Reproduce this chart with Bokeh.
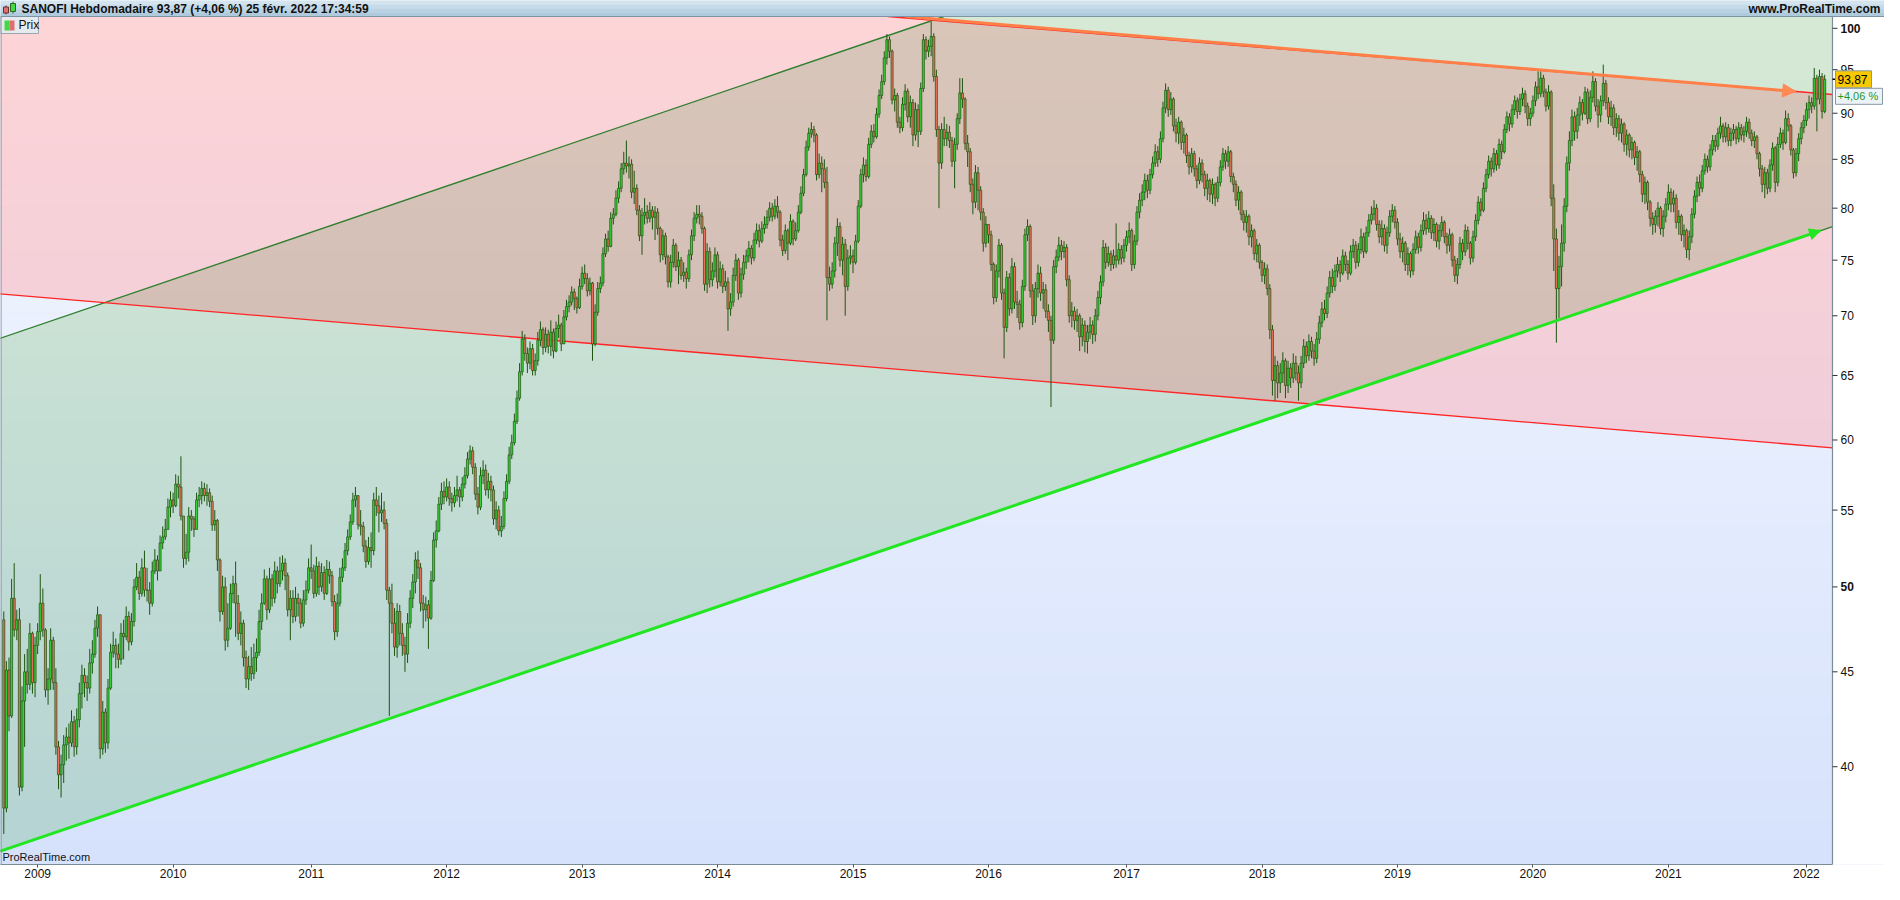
import math
import pandas as pd
from bokeh.plotting import figure
from bokeh.models import Range1d, FixedTicker, Arrow, NormalHead, ColumnDataSource
from bokeh.core.properties import value
from bokeh.embed import file_html
from bokeh.resources import INLINE

# ------------------------------------------------------------------ data
start_date = "2008-10-03"          # first weekly candle (Friday)
first_open = 48.0

close_2008 = [38.0, 45.1, 42.6, 49.3, 47.4, 48.0, 39.0, 43.4, 45.0, 44.3, 47.2, 44.4, 46.5]
high_2008 = [48.5, 45.6, 45.8, 50.5, 51.5, 48.6, 48.7, 44.2, 46.0, 46.3, 47.8, 47.3, 47.0]
low_2008 = [36.8, 37.8, 41.8, 42.5, 47.0, 46.8, 38.6, 38.8, 41.0, 43.8, 44.0, 43.8, 43.6]

close_2009 = [47.3, 49.0, 47.4, 44.0, 44.6, 46.8, 44.4, 41.0, 39.6, 40.1, 41.1, 41.5, 41.2, 42.3, 41.0, 42.4, 43.8, 44.8, 44.4, 44.1, 45.5, 46.0, 47.5, 48.3, 40.9, 42.8, 41.2, 44.1, 46.1, 46.5, 46.0, 45.7, 47.2, 47.0, 48.2, 46.7, 47.9, 50.0, 50.6, 49.6, 51.2, 49.8, 49.8, 49.0, 51.0, 51.7, 51.0, 52.8, 53.2, 53.7, 55.2, 55.7]
high_2009 = [47.8, 50.8, 49.9, 47.5, 45.2, 47.5, 47.0, 45.2, 41.3, 40.6, 41.6, 42.0, 42.2, 42.9, 42.6, 43.0, 44.4, 45.4, 45.2, 44.8, 46.3, 46.8, 48.0, 48.8, 48.1, 43.4, 43.0, 44.6, 46.6, 47.3, 46.9, 46.6, 47.8, 48.0, 48.8, 48.5, 48.4, 50.5, 51.5, 51.0, 51.8, 52.3, 51.2, 50.3, 51.6, 52.4, 52.0, 53.3, 53.9, 54.4, 55.8, 56.3]
low_2009 = [46.0, 46.8, 47.0, 43.6, 43.2, 44.0, 44.0, 40.6, 38.9, 38.5, 39.2, 40.3, 40.4, 41.0, 40.5, 40.6, 42.0, 43.0, 43.6, 43.4, 43.8, 44.9, 45.8, 47.0, 40.4, 40.6, 40.7, 40.9, 44.0, 45.8, 45.2, 45.2, 45.4, 45.7, 46.8, 46.2, 46.5, 47.6, 49.8, 49.2, 49.4, 49.4, 49.1, 48.3, 48.8, 50.8, 50.4, 51.0, 52.4, 53.0, 53.8, 54.5]

close_2010 = [55.3, 56.8, 56.6, 54.6, 51.8, 52.2, 54.6, 54.4, 53.7, 55.7, 56.0, 56.5, 56.0, 56.2, 55.6, 54.0, 54.3, 51.7, 48.5, 50.0, 46.8, 47.5, 49.6, 50.2, 49.0, 47.2, 47.8, 45.8, 44.6, 45.3, 44.9, 45.8, 46.1, 47.9, 49.0, 50.5, 48.6, 50.5, 49.3, 51.0, 50.2, 51.0, 51.5, 50.7, 48.6, 49.3, 48.2, 49.3, 49.0, 47.8, 49.2, 49.8, 51.2]
high_2010 = [56.2, 57.5, 57.4, 58.8, 54.4, 53.4, 55.2, 55.0, 54.6, 56.2, 56.6, 57.0, 56.9, 56.8, 56.5, 56.0, 55.0, 54.4, 51.8, 50.7, 50.6, 49.0, 50.2, 50.7, 51.6, 49.5, 48.5, 48.0, 46.2, 45.9, 46.4, 46.6, 46.9, 48.6, 49.6, 51.1, 50.7, 51.2, 50.8, 51.6, 51.3, 51.9, 52.0, 51.8, 50.9, 49.8, 49.8, 50.0, 49.6, 49.3, 49.8, 50.4, 51.8]
low_2010 = [54.8, 55.2, 55.8, 54.3, 51.2, 51.4, 51.6, 53.6, 53.2, 53.8, 55.2, 55.4, 55.6, 55.3, 55.2, 53.6, 53.6, 51.0, 47.9, 48.3, 46.2, 46.4, 47.4, 49.0, 47.0, 46.8, 46.5, 45.3, 44.1, 44.0, 44.5, 44.6, 45.0, 45.9, 47.4, 48.9, 48.0, 48.4, 48.8, 49.0, 49.6, 50.0, 50.4, 49.8, 48.2, 46.8, 47.8, 47.9, 48.2, 47.5, 47.6, 48.9, 49.6]

close_2011 = [51.0, 49.6, 51.3, 50.0, 50.9, 49.6, 51.1, 50.7, 49.1, 47.3, 49.0, 50.6, 51.2, 52.3, 53.2, 54.2, 55.7, 56.0, 54.0, 53.9, 52.6, 51.6, 52.5, 52.3, 55.7, 55.3, 54.8, 55.0, 54.1, 49.8, 49.0, 47.8, 46.4, 48.5, 47.2, 46.5, 46.0, 47.8, 49.3, 50.3, 51.7, 51.2, 49.0, 48.6, 48.9, 48.1, 50.4, 53.0, 53.6, 55.4, 56.3, 55.9]
high_2011 = [52.7, 51.4, 51.9, 51.6, 51.5, 51.3, 51.7, 51.6, 51.0, 49.5, 49.6, 51.2, 51.8, 52.8, 53.7, 54.7, 56.2, 56.6, 56.0, 55.0, 54.2, 53.0, 53.2, 53.5, 56.2, 56.6, 56.0, 56.2, 55.6, 54.4, 50.0, 50.2, 48.7, 49.0, 48.9, 47.8, 47.0, 48.4, 49.8, 50.8, 52.2, 52.3, 51.5, 49.5, 49.4, 49.2, 51.0, 53.5, 54.3, 55.9, 56.9, 57.0]
low_2011 = [50.5, 49.3, 49.4, 49.5, 49.7, 49.2, 49.5, 50.2, 48.8, 46.8, 47.0, 48.8, 50.3, 51.0, 52.0, 53.0, 54.0, 55.2, 53.7, 53.3, 52.2, 51.2, 51.4, 51.2, 52.0, 54.6, 53.5, 54.2, 53.7, 49.2, 42.6, 47.2, 45.9, 45.8, 46.5, 45.9, 45.0, 45.5, 47.5, 48.7, 49.6, 50.5, 48.5, 47.5, 47.9, 46.3, 48.0, 50.3, 52.5, 53.5, 55.0, 55.4]

close_2012 = [56.6, 55.8, 55.5, 56.0, 56.4, 55.9, 56.8, 57.4, 58.6, 59.2, 58.0, 56.1, 55.2, 57.4, 57.8, 56.4, 57.0, 56.4, 54.4, 55.0, 53.6, 53.9, 55.8, 57.0, 58.9, 59.8, 61.4, 63.2, 65.3, 68.0, 66.8, 66.0, 67.2, 65.4, 66.2, 67.9, 68.8, 67.3, 68.4, 67.4, 68.6, 67.0, 68.9, 69.2, 67.6, 69.9, 70.8, 71.2, 72.1, 71.5, 70.7, 72.6]
high_2012 = [57.2, 57.0, 56.2, 56.6, 57.4, 56.6, 57.3, 58.0, 59.1, 59.6, 59.5, 58.3, 56.6, 58.0, 58.5, 58.2, 57.6, 57.4, 56.7, 55.6, 55.3, 54.6, 56.3, 57.5, 59.5, 60.4, 62.0, 63.8, 66.0, 68.7, 68.4, 67.3, 67.8, 67.6, 66.8, 68.6, 69.5, 69.0, 69.0, 68.8, 69.6, 68.9, 69.5, 70.1, 69.4, 70.5, 71.4, 71.8, 72.6, 72.4, 71.7, 73.3]
low_2012 = [55.6, 55.3, 54.9, 55.2, 55.6, 55.2, 55.6, 56.5, 57.2, 58.2, 57.5, 55.7, 54.7, 55.0, 56.8, 56.0, 55.8, 55.6, 54.0, 53.7, 53.3, 53.2, 53.7, 55.6, 56.8, 58.6, 59.6, 61.2, 63.0, 65.0, 66.2, 65.2, 65.5, 65.0, 65.0, 65.8, 67.4, 66.7, 66.9, 66.8, 66.6, 66.4, 66.9, 68.1, 67.0, 67.8, 69.6, 70.3, 70.9, 70.5, 70.2, 70.6]

close_2013 = [73.8, 73.3, 72.2, 72.9, 67.6, 70.3, 72.4, 72.9, 75.6, 77.0, 76.3, 79.0, 79.4, 81.0, 82.0, 84.0, 84.6, 84.3, 84.5, 81.6, 82.0, 79.8, 77.3, 79.3, 79.6, 79.0, 79.8, 79.1, 79.6, 78.0, 75.5, 77.3, 75.3, 73.0, 74.8, 76.4, 74.4, 75.0, 73.6, 73.9, 73.3, 75.5, 77.3, 79.0, 79.4, 79.2, 78.0, 72.8, 75.8, 73.2, 74.0, 75.5]
high_2013 = [74.4, 74.6, 73.8, 73.4, 73.0, 71.0, 73.0, 73.5, 76.2, 77.5, 77.8, 79.6, 80.0, 81.8, 82.7, 84.6, 85.8, 87.0, 85.3, 85.0, 83.8, 82.4, 80.3, 80.0, 81.0, 80.3, 80.6, 80.2, 80.2, 80.0, 78.2, 77.9, 77.6, 75.5, 75.5, 77.0, 76.6, 75.8, 75.3, 74.8, 74.3, 76.0, 77.9, 79.6, 80.3, 80.3, 79.6, 78.2, 76.6, 76.2, 74.8, 76.2]
low_2013 = [72.3, 72.8, 71.7, 71.8, 66.2, 67.4, 70.0, 72.0, 72.6, 75.3, 75.8, 76.2, 78.4, 79.2, 80.5, 81.6, 83.4, 83.6, 83.0, 81.0, 80.4, 79.3, 76.8, 75.5, 78.4, 78.5, 78.6, 77.9, 76.9, 77.4, 74.8, 75.0, 74.6, 72.5, 72.5, 74.3, 74.0, 72.8, 73.2, 73.0, 72.4, 73.0, 75.0, 76.8, 78.5, 78.4, 77.5, 72.2, 72.0, 72.5, 72.6, 73.4]

close_2014 = [73.0, 74.2, 72.6, 73.0, 70.6, 71.2, 73.6, 75.0, 72.0, 73.7, 74.8, 75.4, 76.1, 75.2, 76.9, 77.8, 76.8, 78.0, 78.4, 79.1, 80.0, 79.2, 80.2, 79.6, 76.9, 75.9, 77.8, 76.6, 78.7, 77.0, 77.8, 79.6, 81.5, 83.4, 86.3, 87.8, 88.2, 87.6, 83.4, 84.6, 84.0, 82.6, 73.4, 72.8, 74.0, 76.6, 78.2, 75.0, 76.5, 72.6, 75.2, 75.4]
high_2014 = [75.8, 74.9, 74.6, 74.0, 73.4, 72.0, 74.3, 75.6, 75.2, 74.3, 75.5, 76.0, 76.8, 76.4, 77.6, 78.5, 78.4, 78.7, 79.2, 79.8, 80.6, 80.5, 80.9, 81.2, 79.8, 77.4, 78.4, 78.0, 79.4, 78.9, 78.6, 80.3, 82.2, 84.0, 87.0, 88.4, 89.0, 88.6, 87.8, 85.6, 85.3, 85.0, 84.2, 74.4, 74.8, 77.2, 79.0, 78.6, 77.2, 77.0, 76.0, 76.4]
low_2014 = [72.4, 72.6, 72.0, 72.2, 68.7, 70.0, 70.8, 73.1, 71.4, 71.6, 73.2, 74.2, 74.8, 74.6, 74.9, 76.5, 76.2, 76.6, 77.5, 78.0, 78.7, 78.7, 78.9, 79.0, 76.3, 75.4, 75.6, 75.0, 76.4, 76.4, 76.8, 77.6, 79.4, 81.2, 83.2, 85.9, 87.3, 86.8, 82.8, 83.0, 81.6, 82.0, 69.6, 72.2, 72.4, 73.4, 75.4, 74.4, 73.6, 70.0, 72.2, 74.6]

close_2015 = [74.8, 76.8, 80.2, 83.4, 84.4, 83.2, 86.6, 88.0, 87.4, 89.9, 92.0, 93.6, 96.4, 98.6, 97.2, 91.5, 92.0, 89.0, 88.4, 91.0, 92.5, 89.6, 91.2, 87.6, 90.4, 88.0, 92.8, 98.6, 97.2, 97.8, 99.0, 94.2, 88.2, 84.6, 88.2, 87.2, 87.9, 87.0, 84.8, 86.6, 89.4, 92.3, 91.6, 86.7, 85.8, 82.4, 80.6, 83.6, 81.8, 79.6, 76.6, 78.4]
high_2015 = [76.0, 77.4, 80.8, 84.0, 85.2, 85.0, 87.3, 88.7, 88.8, 90.6, 92.7, 94.4, 97.2, 99.3, 99.0, 97.4, 92.8, 92.3, 89.6, 91.8, 93.3, 92.8, 92.0, 91.6, 91.2, 91.0, 93.5, 99.3, 99.0, 98.6, 100.8, 99.4, 95.0, 88.6, 88.9, 89.6, 88.8, 88.6, 87.4, 87.3, 90.0, 94.0, 94.0, 91.8, 87.6, 86.2, 83.0, 84.4, 84.2, 82.2, 80.0, 79.2]
low_2015 = [73.8, 74.6, 76.6, 80.0, 82.6, 82.7, 83.0, 86.2, 86.8, 87.2, 89.5, 91.6, 93.2, 95.6, 96.4, 91.0, 90.2, 88.4, 87.8, 88.0, 90.3, 89.0, 88.4, 86.4, 87.0, 86.3, 87.6, 92.4, 96.2, 96.5, 96.6, 93.6, 87.4, 80.0, 84.0, 86.4, 86.4, 86.2, 84.2, 82.0, 86.0, 88.8, 90.6, 86.0, 84.2, 81.6, 79.4, 80.0, 79.8, 78.8, 75.8, 76.2]

close_2016 = [77.4, 74.6, 71.6, 74.0, 76.4, 72.0, 69.0, 73.4, 70.6, 74.4, 71.2, 71.0, 69.4, 72.6, 77.4, 78.2, 72.2, 70.0, 72.4, 73.8, 72.0, 72.3, 70.4, 69.6, 67.9, 74.4, 75.3, 76.4, 75.8, 76.2, 73.2, 70.0, 70.4, 69.6, 70.0, 68.2, 69.2, 67.8, 68.6, 69.2, 68.4, 70.0, 71.6, 73.0, 76.2, 74.8, 75.6, 74.6, 75.4, 75.0, 76.0, 75.2, 76.4]
high_2016 = [78.4, 77.8, 74.8, 74.6, 77.0, 76.6, 72.4, 74.0, 73.8, 75.2, 74.8, 72.2, 71.4, 73.2, 78.0, 78.9, 78.4, 72.8, 73.0, 74.6, 74.4, 73.0, 72.8, 71.0, 70.0, 75.0, 76.0, 77.2, 76.9, 76.8, 76.5, 73.6, 71.2, 70.8, 70.6, 70.2, 69.8, 69.6, 69.2, 69.9, 69.6, 70.6, 72.2, 73.6, 76.9, 76.6, 76.3, 75.9, 76.0, 78.5, 76.6, 76.4, 77.0]
low_2016 = [76.6, 74.0, 71.0, 71.2, 73.4, 71.4, 66.4, 68.6, 70.0, 70.2, 70.6, 69.8, 68.8, 69.0, 72.2, 76.8, 71.6, 69.2, 69.4, 71.6, 71.3, 70.6, 69.8, 68.6, 62.5, 67.6, 73.8, 74.9, 75.0, 75.2, 72.6, 69.4, 69.0, 68.8, 68.6, 67.0, 67.4, 66.9, 66.8, 68.0, 67.6, 67.8, 69.6, 71.0, 72.6, 74.2, 74.4, 74.0, 74.2, 74.3, 74.6, 74.6, 74.8]

close_2017 = [77.2, 77.8, 74.6, 76.8, 79.6, 80.8, 81.6, 82.8, 81.8, 83.4, 84.6, 85.8, 85.0, 87.2, 90.6, 92.6, 90.4, 91.6, 88.6, 87.8, 89.0, 86.8, 87.6, 85.4, 84.2, 85.6, 84.0, 82.8, 84.6, 83.4, 82.0, 82.8, 81.4, 82.4, 81.0, 82.6, 84.2, 85.6, 84.8, 85.8, 83.2, 82.4, 80.8, 81.6, 79.4, 78.6, 79.2, 77.2, 77.8, 75.6, 76.4, 74.8]
high_2017 = [77.8, 78.6, 78.0, 77.4, 80.2, 81.5, 82.4, 83.5, 83.4, 84.0, 85.3, 86.6, 86.4, 88.0, 91.3, 93.4, 93.0, 92.4, 91.8, 89.4, 89.6, 89.2, 88.4, 87.8, 85.8, 86.2, 85.9, 84.4, 85.2, 85.0, 83.8, 83.5, 83.0, 83.0, 82.6, 83.2, 84.9, 86.2, 86.0, 86.4, 86.0, 83.6, 82.8, 82.2, 81.8, 79.8, 79.8, 79.4, 78.4, 78.0, 77.0, 76.6]
low_2017 = [75.8, 76.6, 74.0, 74.2, 76.4, 79.0, 80.2, 80.8, 81.0, 81.4, 83.0, 84.2, 84.2, 84.6, 86.8, 90.0, 89.6, 89.8, 88.0, 86.8, 86.6, 86.0, 85.6, 84.6, 83.4, 83.6, 83.2, 82.0, 82.4, 82.6, 81.2, 80.8, 80.6, 80.4, 80.2, 80.6, 82.2, 83.8, 84.0, 84.2, 82.6, 81.6, 80.2, 79.8, 78.8, 77.8, 77.6, 76.4, 76.2, 75.0, 74.8, 74.2]

close_2018 = [73.6, 74.2, 72.4, 68.8, 64.6, 65.8, 64.4, 65.2, 66.2, 64.2, 65.6, 64.8, 66.0, 65.2, 64.4, 66.0, 67.4, 66.6, 67.8, 67.0, 66.4, 68.0, 69.4, 70.6, 70.2, 72.0, 73.4, 72.6, 74.0, 74.6, 73.8, 75.4, 74.6, 73.8, 75.8, 76.4, 74.8, 76.0, 77.2, 75.8, 77.6, 78.8, 79.4, 80.0, 78.4, 77.2, 78.0, 76.4, 77.6, 79.2, 79.8, 78.6]
high_2018 = [75.0, 74.8, 74.6, 72.8, 69.2, 66.6, 66.2, 66.0, 66.9, 66.4, 66.2, 66.0, 66.8, 66.6, 65.8, 66.6, 68.0, 67.8, 68.4, 68.2, 67.6, 68.6, 70.0, 71.2, 71.4, 72.6, 74.0, 74.2, 74.6, 75.3, 75.0, 76.0, 75.8, 75.0, 76.4, 77.0, 76.8, 76.6, 78.0, 77.6, 78.2, 79.4, 80.2, 80.8, 80.4, 78.8, 78.8, 78.4, 78.2, 79.8, 80.4, 80.2]
low_2018 = [73.0, 72.8, 71.8, 68.0, 63.4, 63.0, 63.2, 63.6, 64.4, 63.2, 63.6, 64.0, 64.4, 64.6, 63.0, 64.0, 65.6, 66.0, 66.2, 66.4, 65.8, 66.0, 67.6, 69.0, 69.6, 69.8, 71.6, 72.0, 72.2, 73.4, 73.0, 73.6, 74.0, 73.2, 73.6, 75.2, 74.2, 74.4, 75.6, 75.2, 75.6, 77.2, 78.4, 78.8, 77.8, 76.6, 76.4, 75.8, 75.6, 77.2, 78.6, 78.0]

close_2019 = [77.0, 75.8, 76.6, 74.6, 75.6, 74.0, 76.0, 77.2, 76.2, 77.8, 78.8, 78.0, 79.0, 77.6, 78.4, 76.8, 77.8, 78.6, 77.2, 76.4, 77.4, 75.0, 73.6, 74.6, 76.6, 75.8, 77.8, 76.6, 75.2, 77.2, 78.8, 80.6, 79.8, 82.0, 83.4, 84.8, 84.0, 85.6, 84.4, 86.6, 85.8, 88.2, 89.6, 88.8, 90.4, 91.4, 90.2, 91.6, 92.2, 90.8, 89.4, 90.0]
high_2019 = [79.0, 77.6, 77.2, 76.8, 76.2, 75.8, 76.6, 77.8, 77.6, 78.4, 79.6, 79.4, 79.7, 79.3, 79.0, 78.6, 78.4, 79.2, 78.8, 77.6, 78.0, 77.6, 75.4, 75.2, 77.2, 77.0, 78.4, 78.2, 76.8, 77.8, 79.4, 81.2, 81.0, 82.6, 84.0, 85.4, 85.2, 86.2, 86.0, 87.2, 87.0, 88.8, 90.2, 90.0, 91.0, 92.0, 91.8, 92.2, 92.9, 92.6, 91.2, 90.6]
low_2019 = [76.4, 75.2, 74.8, 74.0, 73.6, 73.4, 73.6, 75.6, 75.6, 75.8, 77.4, 77.4, 77.6, 77.0, 76.8, 76.2, 76.0, 77.2, 76.6, 75.6, 75.8, 74.4, 73.0, 72.8, 74.2, 75.0, 75.4, 76.0, 74.6, 74.8, 76.8, 78.4, 79.2, 79.6, 81.6, 83.0, 83.2, 83.6, 83.8, 84.0, 85.0, 85.6, 87.8, 88.0, 88.4, 89.8, 89.4, 89.8, 90.8, 90.0, 88.6, 88.6]

close_2020 = [91.4, 93.0, 92.2, 94.0, 92.4, 90.8, 92.4, 81.0, 77.0, 72.4, 74.4, 76.6, 80.2, 84.6, 87.0, 89.6, 88.0, 89.8, 91.2, 90.0, 92.4, 89.4, 91.8, 93.6, 90.8, 89.8, 91.4, 93.4, 91.2, 89.6, 90.6, 88.4, 89.4, 87.8, 88.8, 86.6, 87.6, 86.0, 86.8, 85.2, 85.8, 83.4, 81.4, 82.6, 80.6, 79.0, 78.4, 79.2, 80.0, 78.0, 79.2, 80.4]
high_2020 = [92.0, 93.6, 94.8, 94.8, 94.4, 92.8, 93.2, 92.6, 82.4, 78.0, 75.4, 78.4, 81.0, 85.3, 88.0, 90.4, 90.2, 90.6, 91.9, 91.6, 93.0, 92.8, 92.6, 94.8, 94.0, 91.6, 92.0, 95.6, 93.8, 91.8, 91.4, 91.0, 90.0, 89.8, 89.4, 89.0, 88.2, 87.8, 87.4, 87.0, 86.4, 86.0, 83.8, 83.2, 82.8, 80.8, 79.6, 79.8, 80.6, 80.2, 79.8, 81.0]
low_2020 = [89.6, 90.8, 91.6, 91.8, 91.8, 90.2, 90.4, 80.2, 74.0, 67.7, 69.8, 72.6, 75.8, 79.6, 83.8, 86.4, 87.0, 87.2, 88.6, 89.2, 89.8, 88.8, 89.0, 91.2, 90.2, 88.4, 89.0, 90.8, 90.4, 88.8, 88.6, 87.6, 87.4, 87.0, 86.8, 85.8, 85.4, 85.2, 85.0, 84.4, 83.8, 82.6, 80.6, 80.4, 79.8, 78.2, 77.4, 77.6, 78.2, 77.4, 77.2, 78.6]

close_2021 = [81.6, 80.4, 81.0, 78.6, 79.2, 77.4, 77.8, 76.0, 77.2, 79.4, 81.2, 82.6, 82.0, 83.8, 85.0, 84.2, 86.0, 87.0, 86.4, 87.8, 88.6, 87.4, 88.4, 87.0, 87.8, 88.2, 87.2, 88.4, 87.6, 88.0, 89.0, 87.8, 87.0, 87.4, 85.6, 84.0, 82.4, 83.6, 82.0, 84.4, 86.2, 82.6, 86.6, 87.8, 86.8, 89.4, 88.6, 86.0, 83.6, 85.6, 87.2, 88.4, 89.2]
high_2021 = [82.4, 82.0, 81.8, 81.4, 79.8, 79.4, 78.4, 78.0, 77.8, 80.0, 81.8, 83.2, 83.4, 84.4, 85.6, 85.4, 86.6, 87.6, 87.6, 88.4, 89.6, 88.9, 89.0, 88.8, 88.4, 88.8, 88.6, 89.0, 88.8, 88.6, 89.6, 89.4, 88.2, 88.0, 87.6, 85.8, 84.4, 84.2, 84.0, 85.0, 86.8, 86.4, 87.4, 88.4, 88.2, 90.3, 90.0, 88.8, 86.2, 86.2, 87.8, 89.0, 89.8]
low_2021 = [79.8, 79.6, 79.6, 78.0, 77.4, 76.8, 76.2, 75.2, 75.0, 76.6, 79.0, 80.6, 81.2, 81.6, 83.4, 83.6, 83.8, 85.4, 85.8, 86.0, 87.2, 86.8, 86.8, 86.4, 86.4, 87.0, 86.6, 86.8, 87.0, 86.8, 87.4, 87.2, 86.4, 86.2, 85.0, 83.2, 81.6, 81.0, 81.4, 81.6, 83.8, 81.6, 82.2, 86.2, 86.0, 86.6, 88.0, 85.4, 83.0, 83.2, 84.8, 86.6, 87.8]

close_2022 = [90.4, 91.2, 90.8, 94.0, 91.6, 94.2, 90.21, 93.87]
high_2022 = [91.2, 92.0, 91.8, 95.2, 94.4, 95.0, 94.6, 94.4]
low_2022 = [88.6, 89.4, 90.0, 90.4, 88.0, 91.0, 89.4, 90.0]

# trend lines drawn on the chart: (week index, price)
support_pts = [(-1.26, 36.02), (697.4, 77.8)]       # bright green support (arrow)
channel_top_start = (-1.26, 68.08)                   # parallel upper channel line
red_low_pts = [(-1.26, 71.93), (702.0, 59.42)]      # lower red line
resist_pts = [(333.2, 101.65), (702.0, 92.12)]      # thin red resistance
orange_pts = [(333.2, 101.85), (687.9, 92.46)]      # orange resistance (arrow)

last_price = 93.87
last_price_text = "93,87"
last_change_text = "+4,06 %"
header_text = "SANOFI Hebdomadaire 93,87 (+4,06 %) 25 févr. 2022 17:34:59"
site_text = "www.ProRealTime.com"
y_ticks = [40, 45, 50, 55, 60, 65, 70, 75, 80, 85, 90, 95, 100]
y_ticks_bold = [50, 100]

years = list(range(2008, 2023))
closes, highs, lows = [], [], []
for y in years:
    closes += globals()[f"close_{y}"]
    highs += globals()[f"high_{y}"]
    lows += globals()[f"low_{y}"]
n = min(len(closes), len(highs), len(lows))
closes, highs, lows = closes[:n], highs[:n], lows[:n]
dates = pd.date_range(start_date, periods=n, freq="7D")
opens = [first_open] + closes[:-1]
idx = list(range(n))
tops = [max(o, c) for o, c in zip(opens, closes)]
bots = [min(o, c) for o, c in zip(opens, closes)]
highs = [max(h, t) for h, t in zip(highs, tops)]
lows = [min(l, b) for l, b in zip(lows, bots)]

# ------------------------------------------------------------------ geometry
W, PH, HH, RC = 1884, 848, 16, 52        # canvas width, price height, header, right column
PW = W - RC
X0, X1 = -1.26, 702.0
Y0, Y1 = 35.43, 101.48
kx = (X1 - X0) / PW
ky = (math.log(Y1) - math.log(Y0)) / PH
Xr = X1 + RC * kx
Ytop = Y1 * math.exp(HH * ky)
FONT = "Liberation Sans"
GRAY = "#7b8c99"


def xr(px):          # x position px pixels right of the price area edge
    return X1 + px * kx


def xl(px):          # x position px pixels right of the left edge
    return X0 + px * kx


def yo(price, px):   # price shifted px pixels upward
    return price * math.exp(px * ky)


p = figure(frame_width=W, frame_height=PH + HH, x_range=Range1d(X0, Xr),
           y_range=Range1d(Y0, Ytop), y_axis_type="log", y_axis_location=None,
           output_backend="svg", toolbar_location=None,
           min_border_left=0, min_border_right=0, min_border_top=0,
           min_border_bottom=20)
p.background_fill_color = "#e4ebfb"
p.border_fill_color = "white"
p.outline_line_color = None
p.grid.visible = False

# ------------------------------------------------------------------ background bands
def line_fn(pa, pb):
    (ua, pa_), (ub, pb_) = pa, pb
    va, vb = math.log(pa_), math.log(pb_)
    m = (vb - va) / (ub - ua)
    return (lambda u: va + m * (u - ua)), m, ua, va


L1, mL1, uL1, vL1 = line_fn(*support_pts)
vU1 = math.log(channel_top_start[1])
U1 = lambda u: vU1 + mL1 * (u - channel_top_start[0])
L2, mL2, uL2, vL2 = line_fn(*red_low_pts)
U2, mU2, uU2, vU2 = line_fn(*resist_pts)
OR, mOR, uOR, vOR = line_fn(*orange_pts)


def clip(poly, a, b, c):
    out = []
    k = len(poly)
    for j in range(k):
        P, Q = poly[j], poly[(j + 1) % k]
        fp = a * P[0] + b * P[1] + c
        fq = a * Q[0] + b * Q[1] + c
        if fp >= 0:
            out.append(P)
        if (fp >= 0) != (fq >= 0):
            t = fp / (fp - fq)
            out.append((P[0] + t * (Q[0] - P[0]), P[1] + t * (Q[1] - P[1])))
    return out


def above(m, u0, v0):
    return (-m, 1.0, -v0 + m * u0)


def below(m, u0, v0):
    a, b, c = above(m, u0, v0)
    return (-a, -b, -c)


VTOP = math.log(Y1)
UA, UB = X0 - 3, X1
VA = math.log(Y0) - 0.02
bg_poly = [(UA, VA), (UB, VA), (UB, VTOP), (UA, VTOP)]
bandA = [(UA, L1(UA)), (UB, L1(UB)), (UB, U1(UB)), (UA, U1(UA))]
bandB = [(UA, L2(UA)), (UB, L2(UB)), (UB, U2(UB)), (UA, U2(UA))]
overlap = clip(clip(bandA, *above(mL2, uL2, vL2)), *below(mU2, uU2, vU2))

BG = ((246, 248, 254), (214, 226, 252))
GR = ((214, 233, 213), (180, 211, 211))
PK = ((253, 213, 215), (226, 197, 220))
BR = ((217, 198, 185), (202, 178, 178))


def lerp(c, t):
    a, b = c
    return "#%02x%02x%02x" % tuple(int(round(a[k] + (b[k] - a[k]) * t)) for k in range(3))


N = 40
vbot = math.log(Y0)
for poly, cols in ((bg_poly, BG), (bandA, GR), (bandB, PK), (overlap, BR)):
    xs, ys, cs = [], [], []
    for k in range(N):
        vhi = VTOP - (VTOP - vbot) * k / N
        vlo = VTOP - (VTOP - vbot) * (k + 1) / N
        if k == N - 1:
            vlo -= 0.05
        sp = clip(clip(clip(poly, 0.0, 1.0, -vlo), 0.0, -1.0, vhi), -1.0, 0.0, X1)
        if len(sp) < 3:
            continue
        xs.append([q[0] for q in sp])
        ys.append([math.exp(q[1]) for q in sp])
        cs.append(lerp(cols, (k + 0.5) / N))
    p.patches(xs, ys, fill_color=cs, line_color=cs, line_width=0.8)


def inside_seg(m, ua, va, ulo, uhi):
    """part of the line v = va + m (u - ua) that lies inside the price area"""
    lo, hi = ulo, uhi
    if m != 0:
        u_top = ua + (VTOP - va) / m
        u_bot = ua + (VA - va) / m
        lo, hi = max(lo, min(u_top, u_bot)), min(hi, max(u_top, u_bot))
    return [lo, hi], [math.exp(va + m * (lo - ua)), math.exp(va + m * (hi - ua))]


# ------------------------------------------------------------------ thin lines
for (m, ua, va), col in (((mL1, channel_top_start[0], vU1), "#2f7f2f"),
                         ((mL1, uL1, vL1), "#2f7f2f"),
                         ((mL2, uL2, vL2), "#ff2626"),
                         ((mU2, uU2, vU2), "#ff2626")):
    sx, sy = inside_seg(m, ua, va, X0 - 2, X1)
    p.line(sx, sy, line_color=col, line_width=1.35)

# ------------------------------------------------------------------ candles
WICK = "#1d5510"
src = ColumnDataSource(dict(x=idx, top=tops, bot=bots, h=highs, l=lows,
                            color=["#38d038" if c >= o else "#e8705c"
                                   for o, c in zip(opens, closes)]))
p.segment(x0="x", y0="l", x1="x", y1="h", source=src, line_color=WICK, line_width=1)
p.vbar(x="x", width=0.8, top="top", bottom="bot", source=src,
       fill_color="color", line_color=WICK, line_width=0.7)

# ------------------------------------------------------------------ thick trend lines + arrows
gx, gy = inside_seg(mL1, uL1, vL1, support_pts[0][0], support_pts[1][0])
p.line(gx, gy, line_color="#22e622", line_width=3)
ox, oy = inside_seg(mOR, uOR, vOR, orange_pts[0][0], orange_pts[1][0])
p.line(ox, oy, line_color="#ff7f48", line_width=3)

gs = support_pts[1][0] - 6
p.add_layout(Arrow(end=NormalHead(size=11, fill_color="#22e622", line_color="#22e622"),
                   x_start=gs, y_start=math.exp(L1(gs)),
                   x_end=support_pts[1][0], y_end=support_pts[1][1], line_alpha=0))
os_ = orange_pts[1][0] - 6
p.add_layout(Arrow(end=NormalHead(size=13, fill_color="#ff8a55", line_color="#ff8a55"),
                   x_start=os_, y_start=math.exp(OR(os_)),
                   x_end=orange_pts[1][0], y_end=orange_pts[1][1], line_alpha=0))

# ------------------------------------------------------------------ legend "Prix" + watermark
p.quad(left=[X0], right=[xl(38)], bottom=[yo(Y1, -17)], top=[Y1],
       fill_color="#e6eaef", line_color="#9aa7b2", line_width=1)
p.quad(left=[xl(4), xl(9)], right=[xl(9), xl(14)],
       bottom=[yo(Y1, -14)] * 2, top=[yo(Y1, -4)] * 2,
       fill_color=["#44d844", "#e07070"], line_color=None)
p.text(x=[xl(18)], y=[yo(Y1, -8.5)], text=["Prix"], text_font=value(FONT),
       text_font_size=value("12px"), text_color="#111111", text_baseline="middle")
p.text(x=[xl(2)], y=[yo(Y0, 2)], text=["ProRealTime.com"], text_font=value(FONT),
       text_font_size=value("11px"), text_color="#111111", text_baseline="bottom")
# left border
p.segment(x0=[xl(0.5)], y0=[Y0], x1=[xl(0.5)], y1=[Y1], line_color=GRAY, line_width=1)

# ------------------------------------------------------------------ right price axis
p.quad(left=[X1], right=[Xr + 1], bottom=[Y0], top=[Y1], fill_color="white", line_color=None)
p.segment(x0=[X1], y0=[Y0], x1=[X1], y1=[Y1], line_color=GRAY, line_width=1.2)
p.segment(x0=[X1] * len(y_ticks), y0=y_ticks, x1=[xr(5)] * len(y_ticks), y1=y_ticks,
          line_color="#333333", line_width=1)
reg = [t for t in y_ticks if t not in y_ticks_bold]
p.text(x=[xr(8)] * len(reg), y=reg, text=[str(t) for t in reg], text_font=value(FONT),
       text_font_size=value("12px"), text_color="#111111", text_baseline="middle")
p.text(x=[xr(8)] * len(y_ticks_bold), y=y_ticks_bold, text=[str(t) for t in y_ticks_bold],
       text_font=value(FONT), text_font_size=value("12px"), text_font_style=value("bold"),
       text_color="#111111", text_baseline="middle")
# last price tags
p.segment(x0=[X1], y0=[last_price], x1=[xr(5)], y1=[last_price], line_color="#000000", line_width=1.5)
p.quad(left=[xr(3)], right=[xr(39)], bottom=[yo(last_price, -8.5)], top=[yo(last_price, 8.5)],
       fill_color="#f8c800", line_color="#8a98a4", line_width=1)
p.text(x=[xr(5)], y=[last_price], text=[last_price_text], text_font=value(FONT),
       text_font_size=value("12px"), text_color="#000000", text_baseline="middle")
chg_y = yo(last_price, -17)
p.quad(left=[xr(3)], right=[xr(50)], bottom=[yo(chg_y, -8)], top=[yo(chg_y, 8)],
       fill_color="#edf2f9", line_color="#8a98a4", line_width=1)
p.text(x=[xr(5)], y=[chg_y], text=[last_change_text], text_font=value(FONT),
       text_font_size=value("11px"), text_color="#1f9a1f", text_baseline="middle")

# ------------------------------------------------------------------ header bar
hcols = ["#aecadc", "#bad3e3", "#c6dbe9", "#d3e4ef"]
p.quad(left=[X0 - 1] * 4, right=[Xr + 1] * 4,
       bottom=[yo(Y1, 4 * k) for k in range(4)], top=[yo(Y1, 4 * k + 4.2) for k in range(4)],
       fill_color=hcols, line_color=None)
p.segment(x0=[X0], y0=[Y1], x1=[Xr], y1=[Y1], line_color="#7d94a5", line_width=1.2)
# candle icon
p.segment(x0=[xl(5.5), xl(12.5)], y0=[yo(Y1, 2), yo(Y1, 3)], x1=[xl(5.5), xl(12.5)],
          y1=[yo(Y1, 11), yo(Y1, 15)], line_color=["#6b3030", "#2d6a20"], line_width=1)
p.quad(left=[xl(3), xl(10)], right=[xl(8), xl(15)],
       bottom=[yo(Y1, 3.5), yo(Y1, 5)], top=[yo(Y1, 9.5), yo(Y1, 13)],
       fill_color=["#e07070", "#44d844"], line_color=["#6b3030", "#2d6a20"], line_width=1)
p.text(x=[xl(21)], y=[yo(Y1, 8)], text=[header_text], text_font=value(FONT),
       text_font_size=value("12px"), text_font_style=value("bold"),
       text_color="#111111", text_baseline="middle")
p.text(x=[Xr - 4 * kx], y=[yo(Y1, 8)], text=[site_text], text_font=value(FONT),
       text_font_size=value("12px"), text_font_style=value("bold"),
       text_color="#111111", text_baseline="middle", text_align="right")

# ------------------------------------------------------------------ x axis (years)
year_ticks, year_over = [], {}
for y in range(2009, 2023):
    hit = [i for i, d in enumerate(dates) if d.year == y]
    if hit:
        year_ticks.append(hit[0])
        year_over[hit[0]] = str(y)
ax = p.xaxis[0]
ax.ticker = FixedTicker(ticks=year_ticks)
ax.major_label_overrides = year_over
ax.bounds = (X0, X1)
ax.axis_line_color = GRAY
ax.axis_line_width = 1.2
ax.major_tick_line_color = "#555555"
ax.minor_tick_line_color = None
ax.major_tick_in = 0
ax.major_tick_out = 3
ax.major_label_standoff = 1
ax.major_label_text_font = FONT
ax.major_label_text_font_size = "12px"
ax.major_label_text_color = "#111111"

open("out.html", "w").write(file_html(p, INLINE))
